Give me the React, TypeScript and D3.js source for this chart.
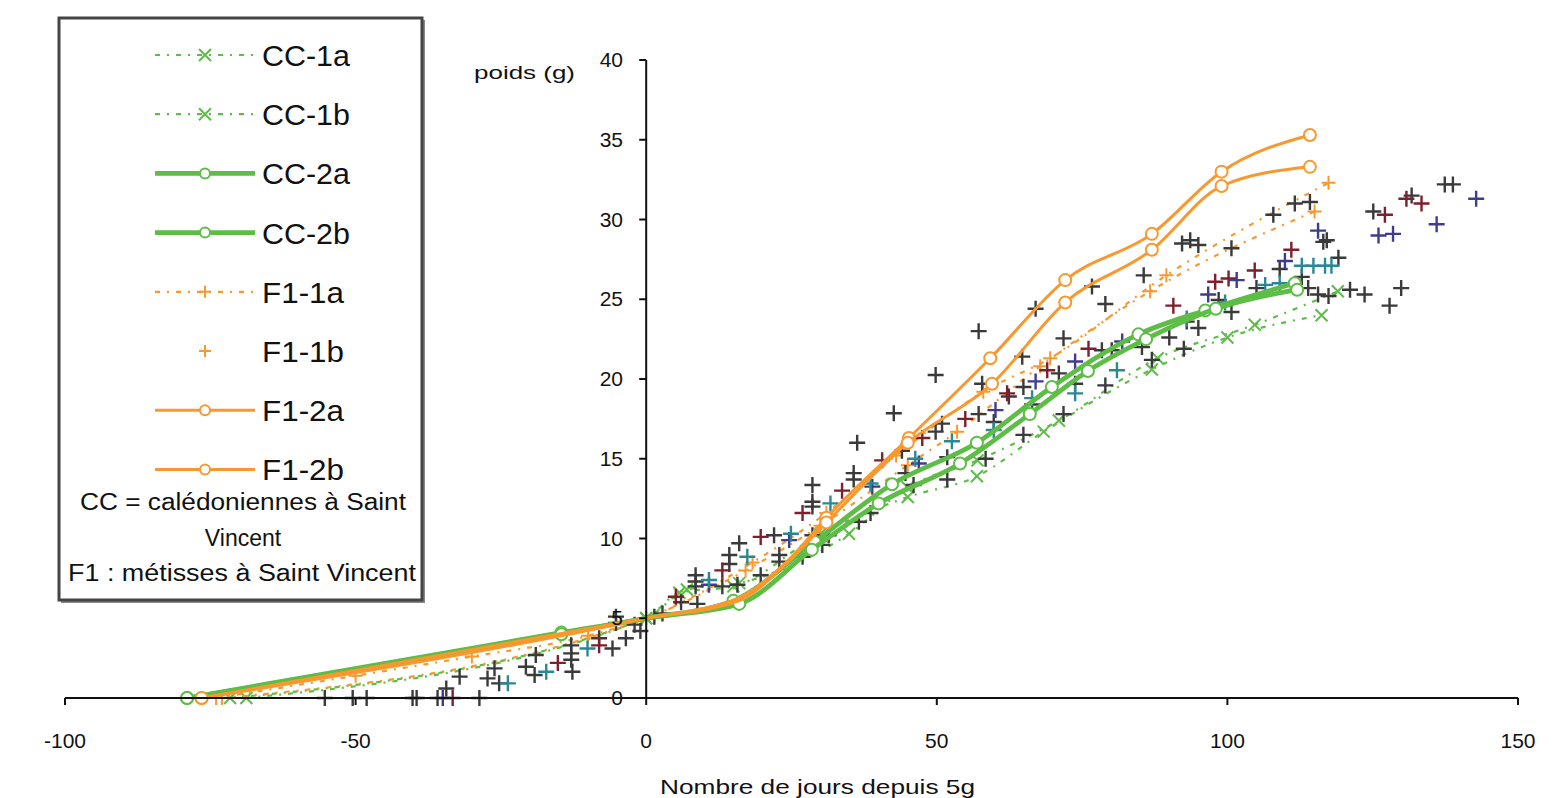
import React from 'react';
import * as d3 from 'd3';

const W = 1554;
const H = 798;

const xTicks = [-100, -50, 0, 50, 100, 150];
const yTicks = [0, 5, 10, 15, 20, 25, 30, 35, 40];

type P = [number, number];

// Legend series
const seriesNames = ['CC-1a', 'CC-1b', 'CC-2a', 'CC-2b', 'F1-1a', 'F1-1b', 'F1-2a', 'F1-2b'];

const cc1a: P[] = [[-71.6, 0], [0, 5], [5.7, 6.6], [15, 7.0], [30, 10.3], [45, 12.6], [56.9, 13.9], [68.4, 16.7], [87, 20.6], [100, 22.6], [116.2, 24.0]];
const cc1b: P[] = [[-68.8, 0], [0, 5], [7, 6.8], [16, 7.2], [34.9, 10.3], [45, 13.2], [57, 14.9], [71, 17.4], [88, 21.3], [104.7, 23.4], [119, 25.5]];
const cc2a: P[] = [[-79, 0], [-14.6, 4.1], [0, 5], [15, 6.1], [29, 9.8], [42.3, 13.4], [56.9, 16.0], [69.8, 19.5], [84.7, 22.8], [96.2, 24.3], [111.6, 26.0]];
const cc2b: P[] = [[-79, 0], [-14.6, 4.0], [0, 5], [16, 5.9], [28.5, 9.3], [40, 12.2], [54, 14.7], [66, 17.8], [76, 20.5], [86, 22.5], [98, 24.4], [112, 25.6]];
const f11a: P[] = [[-74, 0], [-50, 1.4], [-30, 2.6], [-10, 3.9], [0, 5], [17.1, 8.0], [30, 10.8], [45, 14.6], [53.5, 16.7], [67.8, 20.8], [86.7, 25.5], [115, 30.5]];
const f11b: P[] = [[-73, 0], [0, 5], [18.3, 8.5], [31, 11.6], [43, 15.2], [58, 19.2], [69.5, 21.3], [89.5, 26.5], [117.4, 32.3]];
const f12a: P[] = [[-76.5, 0], [0, 5], [16, 6.3], [24.6, 8.7], [31, 11.3], [45.2, 16.3], [59.2, 21.3], [72.1, 26.2], [87, 29.1], [99, 33.0], [114.2, 35.3]];
const f12b: P[] = [[-76.5, 0], [0, 5], [16, 6.1], [24, 8.4], [31, 11.0], [45, 16.0], [59.5, 19.7], [72.1, 24.8], [87, 28.1], [99, 32.1], [114.2, 33.3]];

// Unlabelled individual measurements (crosses)
const grayPts: P[] = [
  [-55.3, 0], [-50.5, 0], [-48.1, 0], [-40.2, 0], [-39.5, 0], [-35.9, 0], [-28.7, 0],
  [-34.4, 0.6], [-32.1, 1.34], [-26.1, 1.86], [-27.3, 1.23], [-25.3, 0.92], [-19, 2.7], [-20.7, 1.96], [-19.2, 1.44],
  [-12.9, 3.3], [-12.9, 2.8], [-12.9, 2.4], [-12.7, 1.65], [-8.1, 3.75], [-5.8, 3.1], [-3.5, 3.75], [-5.2, 5.1], [-5.2, 4.7],
  [-2, 4.6], [-1, 4.2],
  [1.4, 5.1], [2.8, 5.3], [6, 6.0], [8.8, 5.9], [8.5, 7.7], [8.5, 7.3], [8.5, 7.0], [13.1, 7.0], [15.7, 7.1], [14.3, 8.97],
  [14.3, 8.4], [16, 9.7], [19.7, 7.7], [22, 10.2], [22.9, 8.97], [22.9, 8.55], [26.9, 8.86], [28.6, 10.2], [30.3, 9.6],
  [31.4, 10.2], [28.6, 13.35], [28.6, 12.3], [28.6, 12.0], [35.7, 14.1], [35.7, 13.7], [36.3, 16.0], [36.6, 11.05],
  [38.6, 11.6], [42.6, 17.85],
  [44, 15.5], [44.6, 14.1], [46, 13.35], [49.8, 20.25], [50.9, 17.2], [49.8, 16.7], [51.8, 15.1], [51.8, 13.7], [57.2, 23.0],
  [57.2, 17.8], [57.8, 19.7], [58.4, 15.0], [59.8, 17.3], [62.4, 18.9], [64.7, 21.4], [64.9, 19.5], [64.9, 16.5], [66.4, 18.4],
  [67, 24.4], [71, 20.35], [71.8, 22.55], [71.8, 17.8], [73.8, 19.7], [76.7, 25.8], [78.4, 21.8], [79, 24.7], [79, 19.6],
  [80.1, 21.8], [85.3, 22.0], [85.6, 26.5], [87, 21.2], [90, 22.6], [92.5, 21.9], [95, 23.2], [92.2, 28.5], [93.6, 28.7],
  [95, 28.4], [93, 23.6], [98.5, 24.95], [100.7, 28.2], [100.7, 24.2], [105, 25.7], [107.9, 30.3], [109, 26.9], [111.6, 31.0],
  [112.8, 26.4], [113.9, 25.7], [114.2, 31.1], [115.6, 25.3], [116.5, 28.6], [117.1, 28.7], [117.4, 25.2], [119.1, 27.6],
  [121.1, 25.6], [123.6, 25.3], [125.1, 30.5], [127.9, 24.6], [129.9, 25.7], [131.7, 31.5], [137.4, 32.2], [138.8, 32.2],
];
const redPts: P[] = [
  [-33.3, 0], [-15.2, 2.2], [-8.1, 3.3], [5.1, 6.35], [13.1, 8.0], [19.7, 10.1], [26.9, 11.6], [33.7, 13.0], [40.6, 14.9],
  [47.5, 16.3], [54.9, 17.5], [62.1, 19.1], [69, 20.55], [76.1, 21.9], [90.7, 24.6], [97.9, 26.1], [100.2, 26.3],
  [104.7, 26.8], [111, 28.1], [127.1, 30.3], [130.8, 31.3], [133.4, 31.0],
];
const navyPts: P[] = [
  [-35, 0], [10.8, 7.1], [24.6, 9.9], [38.9, 13.25], [46.9, 14.7], [60.1, 18.05], [67, 19.85], [73.8, 21.1], [81.9, 22.35],
  [96.7, 25.3], [101.6, 26.2], [109.9, 27.4], [115.6, 29.3], [126, 29.0], [128.5, 29.1], [136, 29.7], [142.8, 31.3],
];
const tealPts: P[] = [
  [-23.8, 0.92], [-17.2, 1.65], [-10.1, 3.1], [10.8, 7.4], [17.4, 8.86], [24.9, 10.3], [31.7, 12.2], [38.6, 13.45],
  [46.3, 15.0], [52.6, 16.1], [59.8, 16.8], [66.4, 18.8], [73.8, 19.1], [81, 20.55], [93, 23.8], [99.6, 24.8], [106.5, 25.9],
  [109, 26.0], [112.8, 27.1], [114.8, 27.1], [116.8, 27.1], [117.9, 27.1],
];

const GREEN = '#5dbd47';
const ORANGE = '#f8982f';
const FONT = '"Liberation Sans", Arial, sans-serif';

type Style = { color: string; width: number; dash?: string; marker: 'x' | '+' | 'o'; line: boolean; markFrom?: number };
const styles: Style[] = [
  { color: GREEN, width: 2.2, dash: '5 7 2 7', marker: 'x', line: true },
  { color: GREEN, width: 2.2, dash: '5 7 2 7', marker: 'x', line: true },
  { color: GREEN, width: 4.8, marker: 'o', line: true },
  { color: GREEN, width: 4.8, marker: 'o', line: true },
  { color: ORANGE, width: 2.2, dash: '5 7 2 7', marker: '+', line: true },
  { color: ORANGE, width: 2.2, dash: '5 7 2 7', marker: '+', line: false },
  { color: ORANGE, width: 3, marker: 'o', line: true, markFrom: 30 },
  { color: ORANGE, width: 3, marker: 'o', line: true, markFrom: 30 },
];
const seriesData: P[][] = [cc1a, cc1b, cc2a, cc2b, f11a, f11b, f12a, f12b];

function Marker({ type, cx, cy, color, size = 6, sw = 2 }: { type: string; cx: number; cy: number; color: string; size?: number; sw?: number }) {
  if (type === 'o') return <circle cx={cx} cy={cy} r={size} fill="white" stroke={color} strokeWidth={sw} />;
  if (type === 'x')
    return (
      <path d={`M${cx - size},${cy - size}L${cx + size},${cy + size}M${cx - size},${cy + size}L${cx + size},${cy - size}`} stroke={color} strokeWidth={sw} />
    );
  return <path d={`M${cx - size},${cy}L${cx + size},${cy}M${cx},${cy - size}L${cx},${cy + size}`} stroke={color} strokeWidth={sw} />;
}

export default function App() {
  const x = d3.scaleLinear().domain([-100, 150]).range([65, 1518]);
  const y = d3.scaleLinear().domain([0, 40]).range([698, 60]);
  const line = d3
    .line<P>()
    .x((d) => x(d[0]))
    .y((d) => y(d[1]))
    .curve(d3.curveMonotoneX);

  const crossGroups: { pts: P[]; color: string }[] = [
    { pts: grayPts, color: '#3a3a3a' },
    { pts: redPts, color: '#7d1f2c' },
    { pts: navyPts, color: '#3f3c8f' },
    { pts: tealPts, color: '#2a8892' },
  ];

  const order = [0, 1, 4, 5, 2, 3, 6, 7];
  const legendRowY = (i: number) => 55 + i * 59.2;

  const showMarker = (st: Style, d: P) => {
    if (d[0] === 0) return false;
    if (st.markFrom !== undefined && d[0] > -70 && d[0] < st.markFrom) return false;
    return true;
  };

  return (
    <svg width={W} height={H} style={{ position: 'absolute', left: 0, top: 0, background: 'white' }} fontFamily={FONT}>
      <rect x={0} y={0} width={W} height={H} fill="white" />

      {order.slice(0, 4).map((si) => {
        const st = styles[si];
        return (
          <g key={'s' + si}>
            <path d={line(seriesData[si]) || ''} fill="none" stroke={st.color} strokeWidth={st.width} strokeDasharray={st.dash} />
            {seriesData[si].map((d, j) => (
              <Marker key={j} type={st.marker} cx={x(d[0])} cy={y(d[1])} color={st.color} size={st.marker === 'x' ? 6 : 7} sw={2} />
            ))}
          </g>
        );
      })}

      {crossGroups.map((g, gi) => (
        <g key={'c' + gi}>
          {g.pts.map((d, j) => (
            <Marker key={j} type="+" cx={x(d[0])} cy={y(d[1])} color={g.color} size={8} sw={2.4} />
          ))}
        </g>
      ))}

      {order.slice(4).map((si) => {
        const st = styles[si];
        return (
          <g key={'s' + si}>
            <path d={line(seriesData[si]) || ''} fill="none" stroke={st.color} strokeWidth={st.width} />
            {seriesData[si].map((d, j) =>
              showMarker(st, d) ? <Marker key={j} type="o" cx={x(d[0])} cy={y(d[1])} color={st.color} size={6} sw={2} /> : null
            )}
          </g>
        );
      })}

      {/* axes */}
      <line x1={x(-100)} x2={x(150)} y1={y(0)} y2={y(0)} stroke="#111" strokeWidth={2} />
      {xTicks.map((t) => (
        <g key={'xt' + t}>
          <line x1={x(t)} x2={x(t)} y1={y(0)} y2={y(0) + 7} stroke="#111" strokeWidth={2} />
          <text x={x(t)} y={748} fontSize={21} textAnchor="middle" fill="#111">
            {t}
          </text>
        </g>
      ))}
      <line x1={x(0)} x2={x(0)} y1={y(40)} y2={y(0)} stroke="#111" strokeWidth={2} />
      {yTicks.map((t) => (
        <g key={'yt' + t}>
          <line x1={x(0) - 7} x2={x(0)} y1={y(t)} y2={y(t)} stroke="#111" strokeWidth={2} />
          <text x={623} y={y(t) + 7} fontSize={21} textAnchor="end" fill="#111">
            {t}
          </text>
        </g>
      ))}
      <text x={474} y={79} fontSize={19} textLength={101} lengthAdjust="spacingAndGlyphs" fill="#111">
        poids (g)
      </text>
      <text x={660} y={794} fontSize={21} textLength={315} lengthAdjust="spacingAndGlyphs" fill="#111">
        Nombre de jours depuis 5g
      </text>

      {/* legend */}
      <rect x={61} y={20} width={364} height={583} fill="#888" />
      <rect x={59} y={18} width={363} height={582} fill="white" stroke="#444" strokeWidth={3} />
      {seriesNames.map((name, i) => {
        const st = styles[i];
        const ly = legendRowY(i);
        return (
          <g key={'lg' + i}>
            {st.line && (
              <line x1={155} x2={255} y1={ly} y2={ly} stroke={st.color} strokeWidth={st.width} strokeDasharray={st.dash} />
            )}
            <Marker type={st.marker} cx={205} cy={ly} color={st.color} size={st.marker === 'o' ? 5 : 6} sw={2} />
            <text x={262} y={ly + 11} fontSize={29} fill="#111" textLength={i < 4 ? 88 : 82} lengthAdjust="spacingAndGlyphs">
              {name}
            </text>
          </g>
        );
      })}
      <text x={80} y={510} fontSize={23} fill="#111" textLength={326} lengthAdjust="spacingAndGlyphs">
        CC = calédoniennes à Saint
      </text>
      <text x={243} y={546} fontSize={23} fill="#111" textAnchor="middle">
        Vincent
      </text>
      <text x={68} y={581} fontSize={23} fill="#111" textLength={348} lengthAdjust="spacingAndGlyphs">
        F1 : métisses à Saint Vincent
      </text>
    </svg>
  );
}
